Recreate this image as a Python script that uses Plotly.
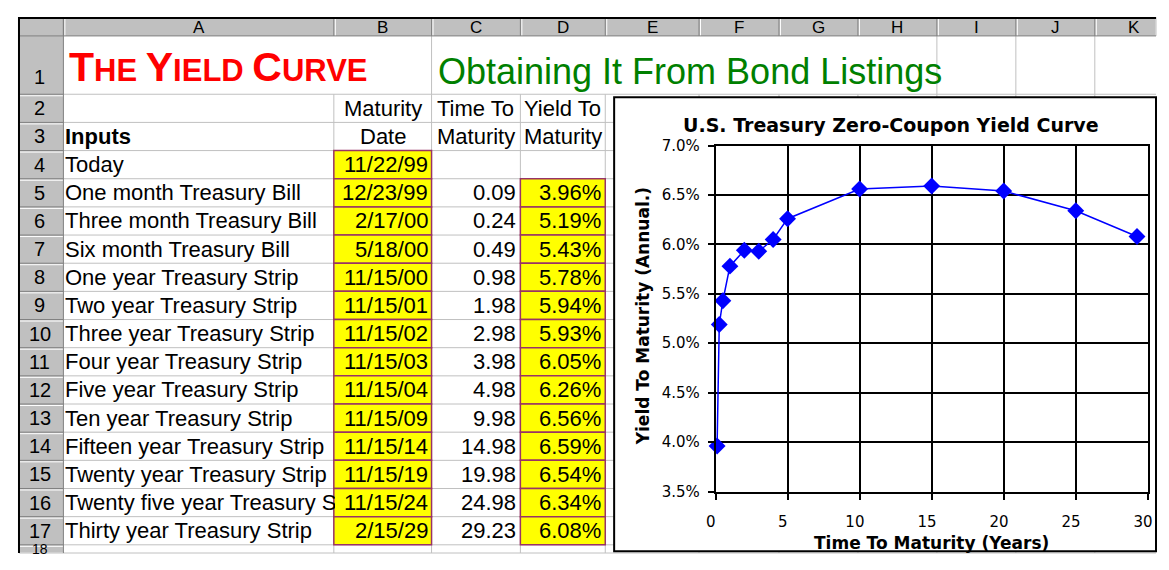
import plotly.graph_objects as go

# ------------------------------------------------------------------ data
col_letters = ["A", "B", "C", "D", "E", "F", "G", "H", "I", "J", "K"]
row_numbers = list(range(1, 19))
title_left = "The Yield Curve"
title_right = "Obtaining It From Bond Listings"
header_row2 = ["Maturity", "Time To", "Yield To"]
header_row3 = ["Date", "Maturity", "Maturity"]
inputs_label = "Inputs"
today_label = "Today"
today_date = "11/22/99"
instruments = [
    "One month Treasury Bill", "Three month Treasury Bill", "Six month Treasury Bill",
    "One year Treasury Strip", "Two year Treasury Strip", "Three year Treasury Strip",
    "Four year Treasury Strip", "Five year Treasury Strip", "Ten year Treasury Strip",
    "Fifteen year Treasury Strip", "Twenty year Treasury Strip",
    "Twenty five year Treasury Strip", "Thirty year Treasury Strip",
]
maturity_dates = ["12/23/99", "2/17/00", "5/18/00", "11/15/00", "11/15/01", "11/15/02",
                  "11/15/03", "11/15/04", "11/15/09", "11/15/14", "11/15/19", "11/15/24",
                  "2/15/29"]
time_to_maturity = [0.09, 0.24, 0.49, 0.98, 1.98, 2.98, 3.98, 4.98, 9.98, 14.98, 19.98,
                    24.98, 29.23]
yield_to_maturity = [3.96, 5.19, 5.43, 5.78, 5.94, 5.93, 6.05, 6.26, 6.56, 6.59, 6.54,
                     6.34, 6.08]  # percent
chart_title = "U.S. Treasury Zero-Coupon Yield Curve"
x_title = "Time To Maturity (Years)"
y_title = "Yield To Maturity (Annual.)"

# ------------------------------------------------------------------ geometry
PAGE_W, PAGE_H = 1169, 570
OFF = 8                      # default body margin of the page
W, H = PAGE_W - 2 * OFF, PAGE_H - 2 * OFF
VS, VO = 0.962, 10.5         # observed vertical scaling of the captured picture
col_edges = [54, 328, 427, 517, 603, 698, 779, 859, 939, 1019, 1099, 1179]
GRID = "#c0c0c0"
HDR = "#c0c0c0"
CELLFONT = "Liberation Sans, Arial, sans-serif"
CHARTFONT = "DejaVu Sans, sans-serif"
MAXCHARS = 27                # visible characters of column A before the next cell


def page_y(r):
    return (r - VO) / VS


def cx(px):
    return min(max(px, OFF), OFF + W)


def cy(py):
    return min(max(py, OFF), OFF + H)


def X(px):
    return (px - OFF) / W


def Yp(py):
    return 1 - (py - OFF) / H


def Y(r):
    return Yp(page_y(r))


def row_top(n):
    return 37 if n == 1 else 95 + (n - 2) * 28


def row_bot(n):
    return 95 if n == 1 else 95 + (n - 1) * 28


shapes = []


def rect(x0, y0, x1, y1, fill, lc=None, lw=0):
    shapes.append(dict(type="rect", xref="paper", yref="paper", layer="below",
                       x0=X(cx(x0)), x1=X(cx(x1)),
                       y0=Yp(cy(page_y(y1))), y1=Yp(cy(page_y(y0))),
                       fillcolor=fill, line=dict(color=lc or fill, width=lw)))


def line(x0, y0, x1, y1, color, w=1):
    shapes.append(dict(type="line", xref="paper", yref="paper", layer="below",
                       x0=X(cx(x0)), x1=X(cx(x1)),
                       y0=Yp(cy(page_y(y0))), y1=Yp(cy(page_y(y1))),
                       line=dict(color=color, width=w)))


annotations = []


def txt(x, y, s, size=22, color="black", xanchor="left", family=CELLFONT, width=None,
        angle=0):
    a = dict(x=X(x), y=Y(y), xref="paper", yref="paper", text=s, showarrow=False,
             xanchor=xanchor, yanchor="middle", textangle=angle,
             font=dict(family=family, size=size, color=color))
    if width is not None:
        a["width"] = width
        a["align"] = "left"
    annotations.append(a)


# header bars
rect(8, 0, 1190, 37, HDR)
rect(8, 37, 54, 600, HDR)

# cell grid lines
for xe in col_edges[1:-1]:
    line(xe, 95, xe, 600, GRID)
for xe in [427, 939, 1019, 1099]:
    line(xe, 37, xe, 95, GRID)
for n in row_numbers:
    line(54, row_bot(n), 1190, row_bot(n), GRID)

# header separators (3D look)
for xe in col_edges:
    line(xe, 0, xe, 37, "#808080", 1)
    line(xe + 1.5, 0, xe + 1.5, 37, "white", 1)
for n in row_numbers:
    line(9, row_bot(n), 54, row_bot(n), "#808080", 1)
    line(9, row_bot(n) + 1.5, 54, row_bot(n) + 1.5, "white", 1)
line(8, 37, 1190, 37, "#808080", 1)
line(54, 0, 54, 600, "#808080", 1)

# outer black frame
shapes.append(dict(type="line", xref="paper", yref="paper", layer="below",
                   x0=0, x1=1, y0=1 - 1 / H, y1=1 - 1 / H,
                   line=dict(color="black", width=2)))
line(9, 0, 9, 600, "black", 2)

# yellow input cells
YEL = "#ffff00"
BRD = "#993366"
rect(328, row_top(4), 427, row_bot(4), YEL, BRD, 1.5)
for k in range(len(maturity_dates)):
    r = 5 + k
    rect(328, row_top(r), 427, row_bot(r), YEL, BRD, 1.5)
    rect(517, row_top(r), 603, row_bot(r), YEL, BRD, 1.5)

# chart box
rect(612, 98, 1190, 549.5, "white", "black", 2)

# ------------------------------------------------------------------ texts
centers = [(col_edges[i] + col_edges[i + 1]) / 2 for i in range(len(col_letters))]
for c, lab in zip(centers, col_letters):
    txt(c, 28.5, lab, size=17, xanchor="center")
for n in row_numbers:
    if n == 1:
        txt(30, 78, str(n), size=20, xanchor="center")
    elif n == row_numbers[-1]:
        txt(30, 547, str(n), size=14, xanchor="center")
    else:
        txt(30, (row_top(n) + row_bot(n)) / 2, str(n), size=20, xanchor="center")

# titles in row 1
big = '<span style="font-size:41px">%s</span>'
words = title_left.upper().split(" ")
red = " ".join(big % w[0] + w[1:] for w in words)
txt(58, 68, "<b>" + red + "</b>", size=31, color="#ff0000")
txt(432, 72, title_right, size=36, color="#008000")

# header texts rows 2-3
for c, s in zip(centers[1:4], header_row2):
    txt(c, (row_top(2) + row_bot(2)) / 2, s, xanchor="center")
for c, s in zip(centers[1:4], header_row3):
    txt(c, (row_top(3) + row_bot(3)) / 2, s, xanchor="center")
txt(54, (row_top(3) + row_bot(3)) / 2, "<b>" + inputs_label + "</b>")

# row 4
yc4 = (row_top(4) + row_bot(4)) / 2
txt(54, yc4, today_label)
txt(425, yc4, today_date, xanchor="right")

for k, (nm, d, t, y) in enumerate(zip(instruments, maturity_dates, time_to_maturity,
                                      yield_to_maturity)):
    r = 5 + k
    yc = (row_top(r) + row_bot(r)) / 2
    txt(54, yc, nm[:MAXCHARS], width=270)
    txt(425, yc, d, xanchor="right")
    txt(515, yc, "%.2f" % t, xanchor="right")
    txt(601, yc, "%.2f%%" % y, xanchor="right")

# chart texts
txt(893, 126, "<b>" + chart_title + "</b>", size=19, xanchor="center", family=CHARTFONT)
txt(934, 541, "<b>" + x_title + "</b>", size=17, xanchor="center", family=CHARTFONT)
txt(641, 316, "<b>" + y_title + "</b>", size=17, xanchor="center", family=CHARTFONT,
    angle=-90)

# ------------------------------------------------------------------ chart
fig = go.Figure()
fig.add_trace(go.Scatter(
    x=time_to_maturity, y=[v / 100 for v in yield_to_maturity],
    mode="lines+markers",
    line=dict(color="#0000ff", width=1.5),
    marker=dict(symbol="diamond", size=13, color="#0000ff"),
    showlegend=False, cliponaxis=False,
))

axis_common = dict(showgrid=True, gridcolor="black", gridwidth=2, zeroline=False,
                   showline=True, linecolor="black", linewidth=2, mirror=True,
                   ticks="outside", ticklen=6, tickwidth=2, tickcolor="black",
                   tickfont=dict(family=CHARTFONT, size=15, color="black"))
fig.update_layout(
    width=W, height=H, autosize=False,
    margin=dict(l=0, r=0, t=0, b=0, pad=0),
    paper_bgcolor="white", plot_bgcolor="white",
    xaxis=dict(domain=[X(715), X(1153)], range=[0, 30], dtick=5, tick0=0,
               ticklabelstandoff=9, ticklabelshift=-5, ticklabeloverflow="allow",
               **axis_common),
    yaxis=dict(domain=[Y(490), Y(146)], range=[0.035, 0.07], dtick=0.005, tick0=0.035,
               tickformat=".1%", ticklabelstandoff=5, **axis_common),
    shapes=shapes,
    annotations=annotations,
)

fig.write_html("out.html", config={"displayModeBar": False})
